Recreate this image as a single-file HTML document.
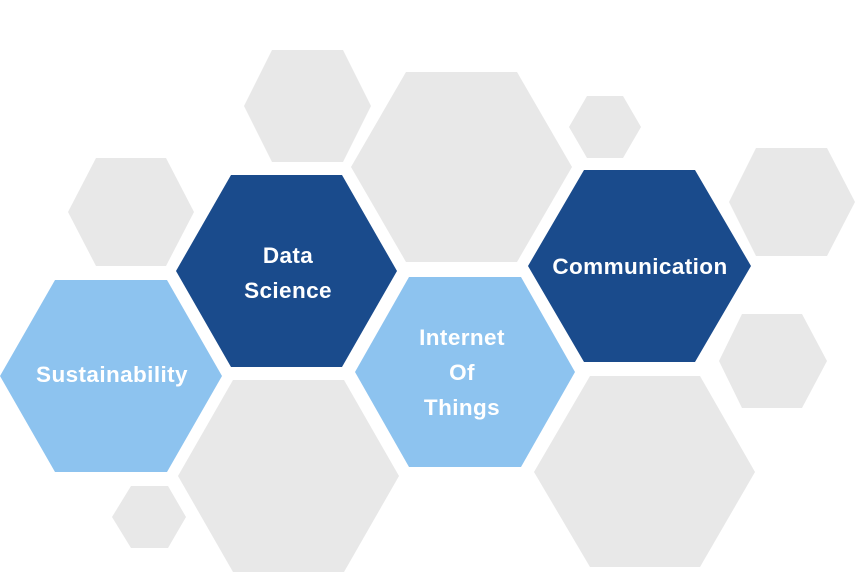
<!DOCTYPE html>
<html><head><style>html,body{margin:0;padding:0;background:#fff;width:855px;height:572px;overflow:hidden}</style></head>
<body>
<svg width="855" height="572" viewBox="0 0 855 572" xmlns="http://www.w3.org/2000/svg">
<g fill="#e8e8e8">
<polygon points="244,106 272,50 343,50 371,106 343,162 272,162"/>
<polygon points="351,167 406,72 517,72 572,167 517,262 406,262"/>
<polygon points="569,127 587,96 623,96 641,127 623,158 587,158"/>
<polygon points="729,202 756,148 827,148 855,202 827,256 756,256"/>
<polygon points="68,212 96,158 166,158 194,212 166,266 96,266"/>
<polygon points="719,361 742,314 802,314 827,361 802,408 742,408"/>
<polygon points="178,476 233,380 344,380 399,476 344,572 233,572"/>
<polygon points="534,472 590,376 700,376 755,472 700,567 590,567"/>
<polygon points="112,517 131,486 168,486 186,517 168,548 131,548"/>
</g>
<g fill="#1a4b8c">
<polygon points="176,271 231,175 342,175 397,271 342,367 231,367"/>
<polygon points="528,266 584,170 695,170 751,266 695,362 584,362"/>
</g>
<g fill="#8dc3ef">
<polygon points="0,376 55,280 167,280 222,376 167,472 55,472"/>
<polygon points="355,372 409,277 521,277 575,372 521,467 409,467"/>
</g>
<g fill="#fff" font-family="Liberation Sans, sans-serif" font-weight="bold" font-size="22.5" text-anchor="middle" letter-spacing="0.4">
<text x="288" y="263">Data</text>
<text x="288" y="298">Science</text>
<text x="640" y="274">Communication</text>
<text x="112" y="382">Sustainability</text>
<text x="462" y="345">Internet</text>
<text x="462" y="380">Of</text>
<text x="462" y="415">Things</text>
</g>
</svg>
</body></html>
